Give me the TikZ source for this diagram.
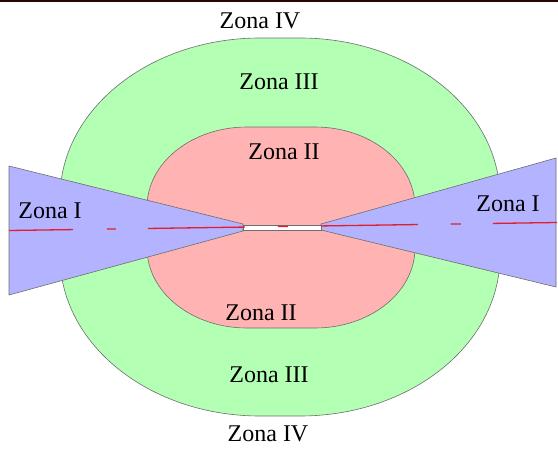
\documentclass[tikz,border=0pt]{standalone}
\usepackage{fontspec}
\setmainfont{Liberation Serif}
\usepackage{tikz}
\usetikzlibrary{calc}
\definecolor{zonagreen}{RGB}{179,255,179}
\definecolor{zonared}{RGB}{255,179,179}
\definecolor{zonablue}{RGB}{179,179,255}
\definecolor{zonaedge}{RGB}{110,110,110}
\definecolor{axisred}{RGB}{225,30,45}
\definecolor{topline}{RGB}{40,5,5}
% zone with elliptic corners: [style](left:top:right:bottom)(x radius:y radius)
\def\roundzone[#1](#2:#3:#4:#5)(#6:#7){\draw[#1] ($(#2,#3)+(#6,0)$) -- ($(#4,#3)-(#6,0)$) arc[start angle=270, end angle=360, x radius=#6, y radius=#7] -- ($(#4,#5)-(0,#7)$) arc[start angle=0, end angle=90, x radius=#6, y radius=#7] -- ($(#2,#5)+(#6,0)$) arc[start angle=90, end angle=180, x radius=#6, y radius=#7] -- ($(#2,#3)+(0,#7)$) arc[start angle=180, end angle=270, x radius=#6, y radius=#7] -- cycle;}

\begin{document}
\begin{tikzpicture}[x=1pt, y=-1pt,
		zona/.style={font=\fontsize{24}{28}\selectfont, inner sep=0pt}]
			%%%%% START %%%%%
			\useasboundingbox (0, 0) rectangle (558, 450);
			
			\draw[line width=1.6pt, color=topline] (0, 0.8) -- (558, 0.8);
			
			\roundzone[fill=zonagreen, draw=zonaedge, line width=0.6pt](60:38:500:416)(200:160);
			\roundzone[fill=zonared, draw=zonaedge, line width=0.6pt](147:127:415:328)(100:80);
			
			\draw[fill=zonablue, draw=zonaedge, line width=0.6pt] (9, 166) -- (243, 224) -- (243, 231) -- (9, 295) -- cycle;
			\draw[fill=zonablue, draw=zonaedge, line width=0.6pt] (556, 158) -- (321, 224) -- (321, 230) -- (556, 287) -- cycle;
			\draw[fill=white, draw=zonaedge, line width=0.6pt] (243, 225) rectangle (321, 230);
			
			\draw[line width=1.3pt, color=axisred, dash pattern=on 64pt off 34pt on 9pt off 32pt on 97pt off 33pt on 10pt off 33pt on 97pt off 33pt on 10pt off 32pt on 70pt] (9, 230.5) -- (557, 222.5);
			
			\node[zona] (iv-top) at (260, 21) {Zona IV};
			\node[zona] (iii-top) at (279, 82) {Zona III};
			\node[zona] (ii-top) at (284, 152) {Zona II};
			\node[zona] (i-left) at (50, 211) {Zona I};
			\node[zona] (i-right) at (508, 203.5) {Zona I};
			\node[zona] (ii-bot) at (261, 313) {Zona II};
			\node[zona] (iii-bot) at (269, 375) {Zona III};
			\node[zona] (iv-bot) at (268, 434) {Zona IV};
			%%%%% END %%%%%
		\end{tikzpicture}
\end{document}
